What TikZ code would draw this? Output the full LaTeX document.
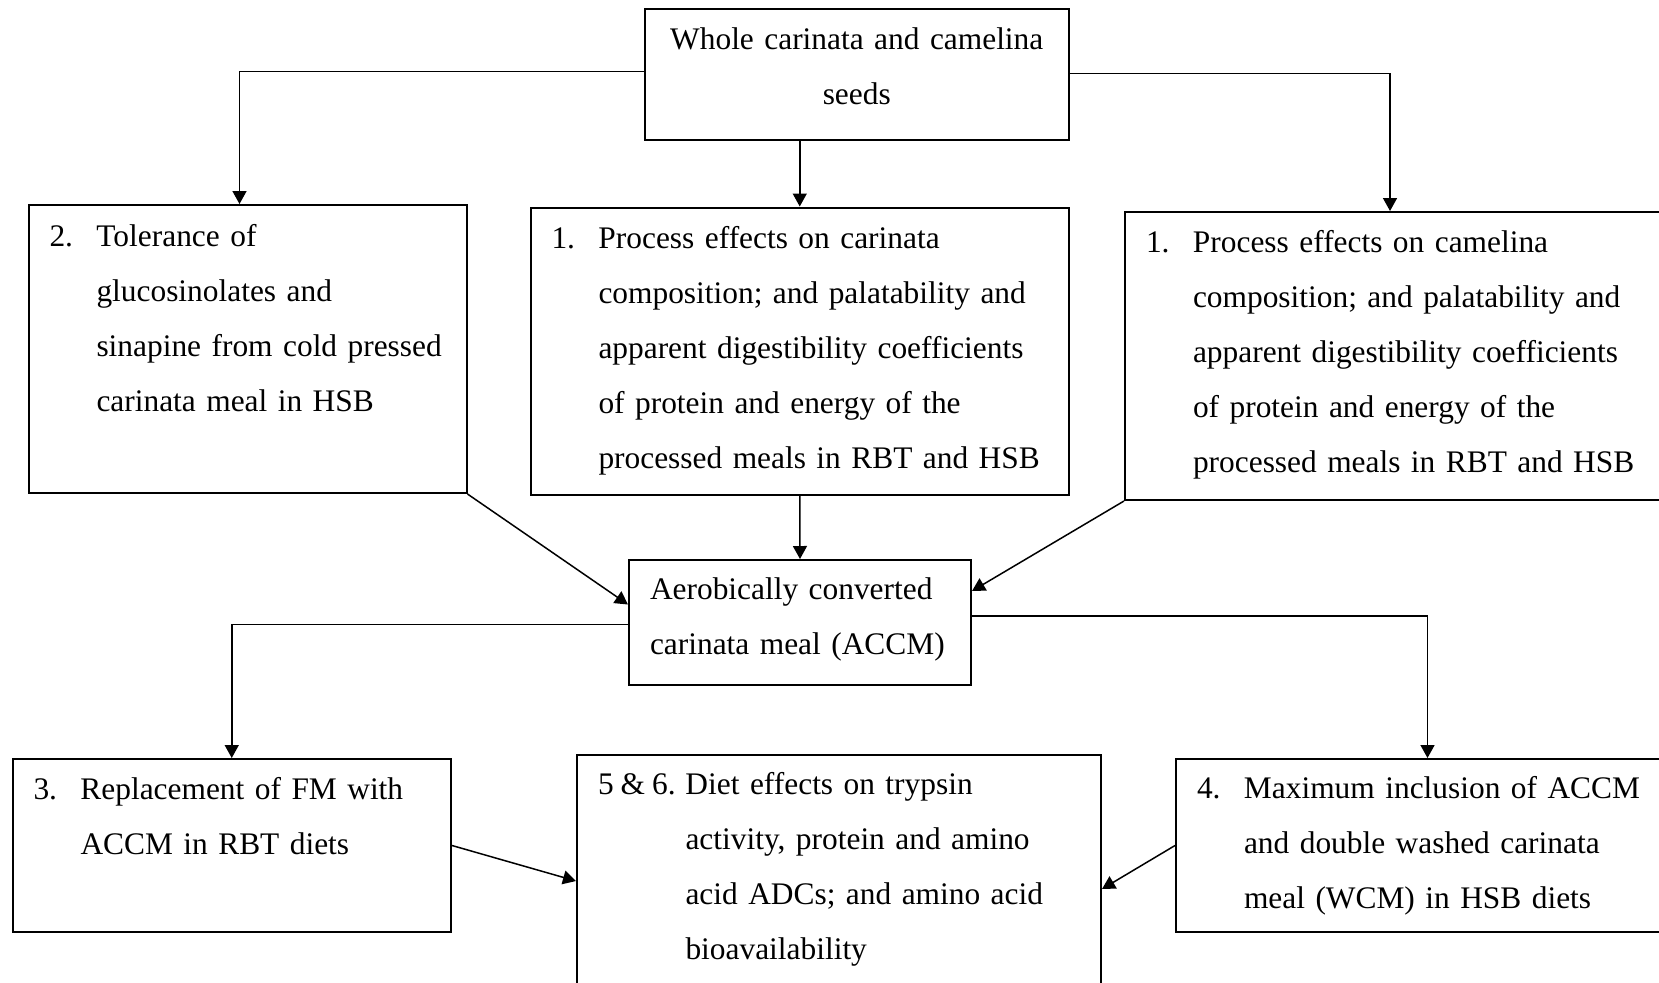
\documentclass[tikz,border=0pt]{standalone}
\usepackage{fontspec}
\setmainfont{Liberation Serif}
\usetikzlibrary{arrows.meta}

\begin{document}
\begin{tikzpicture}[
    x=0.5pt, y=-0.5pt,
    stepbox/.style={
        rectangle,
        draw,
        line width=1pt,
        anchor=north west,
        inner xsep=10.5pt,
        inner ysep=0pt,
        align=left,
        font=\fontsize{15.7}{27.5}\selectfont,
        },
    ArrowC1/.style={
        line width=0.75pt,
        -{Triangle[length=6.5pt,width=7pt]},
        },
    ]

    \useasboundingbox (0,0) rectangle (1659,982);

    \node [stepbox, align=center, text width=191.25pt, text height=20.25pt, text depth=45.5pt] (seeds) at (643.5,7.5)
        {\begin{tabular}[t]{@{}c@{}}Whole carinata and camelina\\ seeds\end{tabular}};

    \node [stepbox, text width=198pt, text height=20.5pt, text depth=123.5pt] (tol) at (27.5,204)
        {\begin{tabular}[t]{@{}p{23.5pt}@{}l@{}}
        2. & Tolerance of\\
           & glucosinolates and\\
           & sinapine from cold pressed\\
           & carinata meal in HSB
        \end{tabular}};

    \node [stepbox, text width=248.25pt, text height=20.25pt, text depth=123.5pt] (carinata) at (529.5,206.5)
        {\begin{tabular}[t]{@{}p{23.5pt}@{}l@{}}
        1. & Process effects on carinata\\
           & composition; and palatability and\\
           & apparent digestibility coefficients\\
           & of protein and energy of the\\
           & processed meals in RBT and HSB
        \end{tabular}};

    \node [stepbox, text width=250pt, text height=20pt, text depth=124pt] (camelina) at (1124,211)
        {\begin{tabular}[t]{@{}p{23.5pt}@{}l@{}}
        1. & Process effects on camelina\\
           & composition; and palatability and\\
           & apparent digestibility coefficients\\
           & of protein and energy of the\\
           & processed meals in RBT and HSB
        \end{tabular}};

    \node [stepbox, text width=150pt, text height=19.5pt, text depth=43pt] (accm) at (628,559)
        {\begin{tabular}[t]{@{}l@{}}Aerobically converted\\ carinata meal (ACCM)\end{tabular}};

    \node [stepbox, text width=198.25pt, text height=20pt, text depth=66.5pt] (repl) at (11.5,758)
        {\begin{tabular}[t]{@{}p{23.5pt}@{}l@{}}
        3. & Replacement of FM with\\
           & ACCM in RBT diets
        \end{tabular}};

    \node [stepbox, text width=241pt, text height=19.5pt, text depth=98.5pt] (diet) at (576,754)
        {\begin{tabular}[t]{@{}p{43.75pt}@{}l@{}}
        5\hspace{3.5pt}\&\hspace{3.5pt}6. & Diet effects on trypsin\\
                & activity, protein and amino\\
                & acid ADCs; and amino acid\\
                & bioavailability
        \end{tabular}};

    \node [stepbox, text width=224pt, text height=19.5pt, text depth=67pt] (maxinc) at (1175,758)
        {\begin{tabular}[t]{@{}p{23.5pt}@{}l@{}}
        4. & Maximum inclusion of ACCM\\
           & and double washed carinata\\
           & meal (WCM) in HSB diets
        \end{tabular}};

    \draw [ArrowC1] ([yshift=1.5pt]seeds.west) -| ([xshift=-4pt]tol.north);
    \draw [ArrowC1] (seeds.south -| carinata.north) -- (carinata.north);
    \draw [ArrowC1] ([yshift=0.5pt]seeds.east) -| ([xshift=-3pt]camelina.north);

    \draw [ArrowC1] (tol.south east) -- ([yshift=9pt]accm.west);
    \draw [ArrowC1] (carinata.south) -- (accm.north);
    \draw [ArrowC1] (camelina.south west) -- ([yshift=15.75pt]accm.east);

    \draw [ArrowC1] ([yshift=-1pt]accm.west) -| (repl.north);
    \draw [ArrowC1] ([yshift=3.25pt]accm.east) -| ([xshift=3.25pt]maxinc.north);

    \draw [ArrowC1] (repl.east) -- ([yshift=-4pt]diet.west);
    \draw [ArrowC1] (maxinc.west) -- ([yshift=-8pt]diet.east);

\end{tikzpicture}
\end{document}
